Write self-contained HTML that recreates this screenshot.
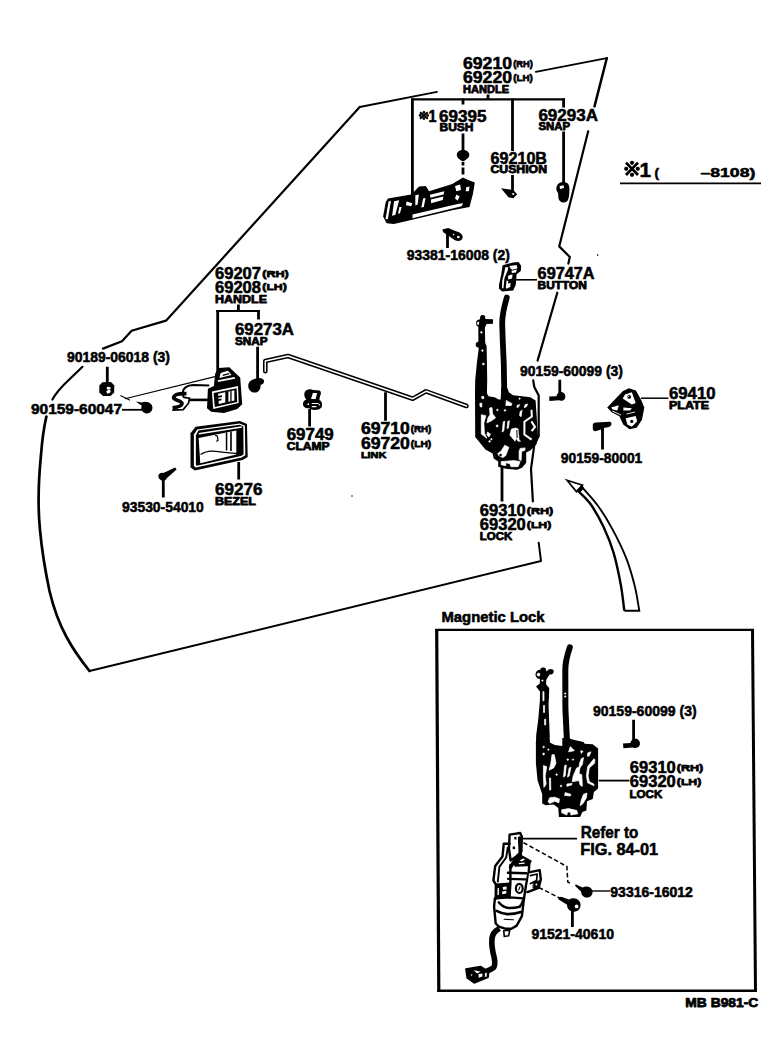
<!DOCTYPE html>
<html>
<head>
<meta charset="utf-8">
<title>Door Lock &amp; Handle</title>
<style>
html,body{margin:0;padding:0;background:#fff;}
body{width:784px;height:1050px;overflow:hidden;font-family:"Liberation Sans",sans-serif;}
svg{display:block;}
text{font-family:"Liberation Sans",sans-serif;font-weight:bold;fill:#000;stroke:#000;stroke-width:0.55;stroke-linejoin:round;}
.ln{fill:none;stroke:#000;stroke-width:2.2;stroke-linecap:round;stroke-linejoin:round;}
.ld{fill:none;stroke:#000;stroke-width:2.8;stroke-linecap:butt;}
.th{fill:none;stroke:#000;stroke-width:1.1;}
.k{fill:#000;stroke:none;}
.w{fill:#fff;stroke:none;}
#lock .w,#lock2 .w{stroke:#fff;stroke-width:0.7;stroke-linejoin:round;}
</style>
</head>
<body>
<svg width="784" height="1050" viewBox="0 0 784 1050">
<rect x="0" y="0" width="784" height="1050" fill="#fff"/>

<!-- ===== DOOR OUTLINE ===== -->
<g id="outline" class="ln">
<path style="stroke-width:1.8" d="M437,91.8 L359.7,107"/>
<path d="M359.7,107 L167.6,319 L166,320.6 L131.6,330.8 L122,341.3 L103,348.6"/>
<path d="M82.5,366.8 L69,379.8 Q57,391 52.4,399.6"/>
<path style="stroke-width:2.7" d="M46.4,416.5 C43.8,428 42,441 41,455 C38,485 38,510 40,530 C42,552 45.5,572 49.5,591 C53.5,608 59.5,624 66.5,637 C73.5,650 81.5,661 89.5,671"/>
<path style="stroke-width:2" d="M89.5,671 L541,561 L538.7,542.7"/>
<path style="stroke-width:1.8" d="M535.8,71.9 L606.8,58.2"/>
<path style="stroke-width:2.5" d="M606.8,58.2 L594.5,106.4"/>
<path d="M588.2,131.3 L559.2,246.4 L569.8,257 L568.4,263.6"/>
<path d="M557.3,292.7 L537.6,360.6"/>
<path d="M533.2,380.3 L534.3,386.9 L538.7,395.6 L538.7,436.1 L534.3,444.9 L531,469 L532.9,501.4"/>
</g>

<!-- ===== PARTS ===== -->
<g id="parts">
<!-- outside handle 69210 -->
<g id="ohandle">
<path class="k" d="M388,198.5 L411.2,194.5 L419.1,186.6 L425.8,185.9 L429.1,191.2 L452.3,183.9 L458.9,180 L462.9,177.6 L468.2,180 L474.8,182.6 L472.9,193.9 L469.5,207.1 L452.3,210.2 L411.2,220 L393.9,224 L386.6,223.3 L383.1,216.4 L385.8,201.8 Z"/>
<path class="w" d="M388.6,201.4 L391,200.8 L387.8,219.3 L385.5,219.1 Z"/>
<path class="w" d="M394.1,201.2 L399.2,200.2 L395.2,215.1 L392.1,215.8 Z"/>
<path class="w" d="M412.5,214.6 L457.6,204 L463.2,203.2 L461.6,206.3 L412.5,218.2 Z"/>
<path class="w" d="M429.9,194.7 L444.3,191.2 L443.6,194.6 L430.5,197.8 Z"/>
<path class="w" d="M430.8,199.6 L443.3,196.6 L442.8,200 L431.2,203.2 Z"/>
<path class="w" d="M455,186 L460.2,184.6 L461,190 L456.3,191.2 Z"/>
<path class="w" d="M466.2,187.2 L469.5,186.6 L468.9,191.2 L465.7,191.2 Z"/>
<path class="w" d="M456.3,194.5 L459.6,196.5 L457.6,200.5 L455,198.5 Z"/>
<path class="w" d="M415.3,195.2 L418.9,194.5 L417.6,204.5 L415.3,205.6 Z"/>
<path class="w" d="M423.1,198.5 L425.6,197.9 L423.8,207.1 L421.3,207.6 Z"/>
<path class="w" d="M406.5,201.4 L412.3,203.2 L411.2,206.3 L406,205.2 Z"/>
<path class="w" d="M399.4,207.1 L401.7,207.1 L399.9,213.6 L398.1,213.6 Z"/>
</g>
<!-- bush -->
<path class="k" d="M463,150 C467,150 469.3,152.3 469.3,155 C469.3,158 466,159.6 463.6,161.3 L462.4,161.3 C460,159.6 456.8,158 456.8,155 C456.8,152.3 459,150 463,150 Z"/>
<!-- cushion -->
<path class="k" d="M501,188.2 L513.3,190 L517.2,194.2 L513.3,198.3 L508.4,197.3 Z"/>
<circle class="w" cx="513.2" cy="194" r="1.1"/>
<!-- snap (outer) -->
<path class="k" d="M563,182 C567,181.6 569.6,184.5 569.4,188.5 C569.3,192 569.6,195 568.2,199.5 C567,203 562.5,203.5 560,201 C557.8,198.8 558.6,195.5 558,193 C556,190.5 555.8,187.5 557.3,185 C558.6,183 560.5,182.2 563,182 Z"/>
<path class="w" d="M559.6,186 L563.5,185.2 L564,188 L560,189 Z"/>
<!-- screw 93381 -->
<path class="k" d="M442.2,229.5 L448.3,228 L456,231.2 C460.5,232.2 463.3,235 462.6,238 C461.8,241.4 457.5,241.8 454.5,240 L447.5,235 L443.5,232.5 Z"/>
<circle class="w" cx="458.3" cy="237" r="1.3"/>
<circle class="w" cx="453.6" cy="234.6" r="0.8"/>
<!-- ===== inside handle 69207 ===== -->
<g id="ihandle">
<path class="k" d="M207.9,388.8 L213.9,386.1 L215.2,373.4 L218.6,368 L229.3,367.2 L240.2,377.4 L242.2,404.2 L237.3,409.1 L223.9,413.1 L211.2,411.8 L207,408.2 Z"/>
<path class="w" d="M220.6,372.9 L227.9,370.7 L231.6,375 L219.4,378 Z"/>
<path class="k" d="M222.5,374.8 L229,373 L229.4,374.2 L222.8,376 Z"/>
<path class="w" d="M217.9,380.3 L234.6,376.9 L235.1,378.7 L217.9,382.1 Z"/>
<path class="w" d="M211.9,391.5 L238,386.1 L238.7,402.9 L213.2,408.9 Z"/>
<path class="k" d="M213.6,393.1 L236.6,388.3 L237.2,401.9 L214.8,407.1 Z"/>
<path class="w" d="M218.1,393.7 L234.4,390.3 L234.4,400.6 L218.8,404 Z"/>
<path class="k" d="M225.3,391.5 L228.4,391 L228.4,402.6 L225.3,403.2 Z"/>
<path class="k" d="M218,396 L222,395.2 L222,397 L218,397.8 Z M218,399.2 L221.5,398.5 L221.5,400.2 L218,400.9 Z"/>
<path class="k" d="M230.3,391 L231.6,390.8 L231.6,401.6 L230.3,401.8 Z"/>
<!-- arm -->
<path d="M209.2,385.6 L193.3,384.9 C187,385.2 183.2,387.6 182.6,392.6 L183.6,397.6" fill="none" stroke="#000" stroke-width="2"/>
<path d="M188.8,399.9 H208.5" fill="none" stroke="#000" stroke-width="2.6"/>
<!-- S hook -->
<path d="M186.5,393.6 C181,393.4 174.3,394.2 173.6,397.3 C173,400.6 182.6,400.2 182,403.8 C181.5,406.8 176,407.4 172.6,407.8" fill="none" stroke="#000" stroke-width="3.7" stroke-linecap="butt"/>
<path d="M183.5,397.3 L189.5,398.2 L188.5,403.2 L183.2,409.6 L172.2,410.2" fill="none" stroke="#000" stroke-width="1.7"/>
</g>
<!-- snap (inner) -->
<path class="k" d="M256,378.6 C259,377.6 262.5,378 263.9,380.2 C264.8,382.4 262.8,384.6 260.5,385 C261,389.5 258,392.9 254.4,392.6 C250.4,392.2 247.8,388.6 248.3,385 C248.8,381.4 252,379.6 256,378.6 Z"/>
<!-- nut 90189 -->
<path class="k" d="M102.5,382.2 L111,382 L114.2,385.2 L114.2,392.6 L110.6,395.9 L103,395.9 L99.3,392.6 L99.3,385.4 Z"/>
<path class="w" d="M107.5,386.8 C109.6,386.2 111,387.4 110.9,389 L108.6,389.6 L110.7,390.4 C110.8,392.6 109.2,393.8 107.2,393.4 C106.2,392.4 106.2,391.2 107,390.6 L108.8,390 L107,389.2 C106.4,388.4 106.6,387.4 107.5,386.8 Z"/>
<!-- screw 90159-60047 -->
<path class="k" d="M135.8,401.6 L141.8,402.4 C144.6,401.2 148.6,401.4 151,404 C153.4,406.8 152.8,411 149.6,412.8 C146.6,414.4 142.8,413 141.6,410 C141,408.4 141.2,407 141.8,405.8 Z"/>
<!-- clamp 69749 -->
<path class="k" d="M306,390.6 C307.6,389 311.4,388.6 313,390 L319.6,390.6 C321.4,391.6 321.2,394.8 320,396 L319.4,400 C322,401 322.6,404.8 321.6,407.2 C319.6,410 314.4,410.4 311.6,409.6 L309,408.2 C305.6,408.6 302.6,406.6 303,403.4 C303.2,401.4 304.6,400 306.4,399.4 C304,397.4 303.4,392.8 306,390.6 Z"/>
<path class="w" d="M312.9,393 L317.1,393 L315.6,399.1 L311,399.1 Z"/>
<path class="w" d="M311.8,402.9 H318.6 V404.1 H311.8 Z M311.8,406 H316.4 V407.2 H311.8 Z"/>
<circle class="w" cx="308.3" cy="404.2" r="0.9"/><circle class="w" cx="319.4" cy="404.8" r="0.8"/>
<!-- link rod 69710 -->
<path d="M265.3,371.2 L265.3,361 L288,356 L412.8,398.7 L426,391.3 L466.5,406" fill="none" stroke="#000" stroke-width="4.6" stroke-linejoin="round" stroke-linecap="round"/>
<path d="M265.3,371.2 L265.3,361 L288,356 L412.8,398.7 L426,391.3 L466.5,406" fill="none" stroke="#fff" stroke-width="1.5" stroke-linejoin="round" stroke-linecap="round"/>
<!-- bezel 69276 -->
<g id="bezel">
<path class="k" d="M190.5,433.2 L195.6,426.7 L239.8,421.1 L247,424.1 L247.7,457.1 L242.6,460.1 L194.9,470.6 L190.5,467.6 Z"/>
<path class="w" d="M193.9,434.6 L197.2,429.4 L239.6,423.5 L244.9,425.8 L245.3,455.2 L241.6,457.4 L195.8,467.4 L193.9,466 Z"/>
<path class="k" d="M195.9,435.4 L198.4,430.6 L239.8,424.8 L243.3,426.6 L243.6,454.4 L240.8,456 L196.8,465.8 L195.9,465 Z"/>
<path d="M198.8,433.8 L241.8,427" fill="none" stroke="#fff" stroke-width="1.4"/>
<path class="w" d="M198.6,438 L236.3,430.6 L236.3,454.5 L200.3,463.2 Z"/>
<path class="k" d="M225.8,432.6 L227.3,432.3 L227.3,450.4 L225.8,450.4 Z M230.2,431.8 L231.8,431.5 L231.8,451 L230.2,451 Z"/>
<path d="M215.2,435.4 L217.4,436.2 L218,440.6 L216.2,441.2" fill="none" stroke="#000" stroke-width="1.2"/>
<path d="M200.6,454.6 C205,451.4 211,450.6 216,451.4 C224,452.6 231,453 237,453.4" fill="none" stroke="#000" stroke-width="1.2"/>
</g>
<!-- screw 93530 -->
<path class="k" d="M158.6,474.8 C159.6,473 161.6,472.4 163.4,473 L175.2,467.6 L176.6,469.4 L167,478 C166,480.2 163.6,481.2 161.4,480.4 C159,479.4 157.8,476.8 158.6,474.8 Z"/>
<!-- ===== button 69747A ===== -->
<g id="button">
<path class="k" d="M502.6,265.3 L513,262.5 L518.5,262.1 L521.2,265.7 L520.8,271.1 L516.6,274.3 L515.8,284.8 L513.2,290.4 L502.2,291.6 L499,288.8 L499,284.8 L501.3,274.1 Z"/>
<path class="w" d="M505.3,267.2 L508.2,267.2 L507.8,270.3 L504.5,278 L503.4,288.5 L502,287.9 L502.3,280.2 L504.3,272.6 Z"/>
<path class="w" d="M509.3,266.1 L516.7,265 L517.3,268.4 L512.2,269.8 L510.8,268.7 Z"/>
<path class="w" d="M511.5,270.8 L517,269.6 L515.9,272.5 L511.9,272.9 Z"/>
<path class="w" d="M508.1,275.8 L512.5,274.3 L512.1,278.6 L508.1,279.4 Z"/>
<path class="w" d="M506.6,280.4 L508.3,281.1 L508,283.4 L510.6,283 L510.2,287 L506.6,288.8 L505.8,287.8 Z"/>
</g>
<!-- ===== lock 69310 ===== -->
<g id="lock">
<!-- thick rod -->
<path d="M506.8,297.5 C503.5,309 502,316 502.2,324 L502.8,342 L503.8,364 L504.3,396" fill="none" stroke="#000" stroke-width="5.8" stroke-linecap="round"/>
<!-- left rod -->
<circle cx="479.8" cy="323.2" r="3.7" class="k"/>
<circle cx="478.6" cy="323.4" r="1.3" class="w"/>
<circle cx="482.2" cy="323.8" r="0.9" class="w"/>
<path class="k" d="M480.4,316 C481.6,314.6 484,314.6 485,316 L485.4,319 L493,319.2 L493,323.8 L486.6,324 L484.9,327.6 L485.2,343 L486.6,346 L486.9,361 L487.2,380 L486.9,394 L475,394 L475.2,380 L477,362 L478.8,348 L475.8,346.2 L475.8,343 L478.4,341.4 L478.3,327.6 Z"/>
<circle cx="481.4" cy="332.4" r="0.8" class="w"/><circle cx="482.4" cy="350.6" r="0.8" class="w"/><circle cx="483.4" cy="364" r="0.9" class="w"/>
<!-- body -->
<path class="k" d="M475,390 L475.2,437.1 L485.4,449.4 L492.6,453.5 L493.6,458.6 L498.2,461.6 L498.2,466.7 L505.8,468.8 L517,469.8 L522.1,467.8 L526.2,462.7 L526.2,452.4 L530.3,450.4 L536.4,444.3 L538,437.1 L535.6,400.4 L530.3,397.3 L522.1,396.3 L513,395.3 L508.9,392.2 L507.3,388 L501.2,388 L500.7,399.4 L498.7,399.4 L494.6,397.3 L488.5,396.3 L486.9,393.3 L486.9,390 Z"/>
<path class="w" d="M481.3,414.7 L485.9,415.7 L483.9,422.9 L484.4,433.1 L486.9,438.2 L481.3,434.1 Z"/>
<path class="w" d="M489.5,408.1 L492,407.6 L492.6,413.7 L495.6,417.8 L491.5,420.8 L486.9,422.9 L488,417.8 L490,414.7 Z"/>
<path class="w" d="M506.3,400.4 L508.9,401.9 L511.9,403.5 L511.4,405.5 L505.8,405.5 Z"/>
<path class="w" d="M520.1,411.6 L522.1,410.1 L521.1,416.7 L519.6,415.7 Z"/>
<path class="w" d="M525.2,404.5 L527.8,404 L526.2,407 L524.2,407.6 Z"/>
<path class="w" d="M517,405.5 L519.6,404.5 L518.6,407 L517,407.6 Z"/>
<path d="M531.5,409.8 L531.8,416.5 L524.4,421.8 L524.4,434.6 L531.6,439.6 M531.4,421.4 L535,427 L531.6,431.2" fill="none" stroke="#fff" stroke-width="2"/>
<path class="w" d="M511.4,429 L516,428 L518.1,429 L519.1,440.2 L520.6,441.2 L518.1,441.2 L516,438.2 L515,441.2 L509.9,435.1 Z"/>
<path class="k" d="M516.4,430 L517.4,430 L517.6,438 L516.6,438 Z"/>
<path class="w" d="M503.3,421.8 L504.8,421.3 L503.8,431 L502.2,432 Z"/>
<path class="w" d="M507.9,421.3 L509.4,420.8 L508.4,428 L507,428.5 Z"/>
<path class="w" d="M504.8,445.3 L508.9,447.3 L505.8,455.5 L502.8,457.6 L498.7,455.5 L497.7,453.5 L500.7,451.4 Z"/>
<circle class="k" cx="500.6" cy="455" r="1.3"/>
<path class="w" d="M520.1,448.4 L525.2,447.9 L524.7,450.4 L521.6,451.4 L521.1,460.6 L519.1,459.6 L519.1,451.4 Z"/>
<path class="w" d="M501.2,461.6 L514,460.6 L520.1,461.6 L518.1,466.7 L510.9,466.7 L509.9,463.7 L505.8,462.7 L505.8,465.7 L501.2,464.7 Z"/>
<path class="w" d="M487.4,432 L490.5,434.1 L489,437.1 L486.9,435.1 Z"/>
<circle class="w" cx="497.1" cy="425.9" r="1"/>
<path class="w" d="M479.8,403.5 L481.8,403 L481.8,407 L480.1,406.7 Z"/>
<path class="w" d="M481.6,396.6 L483.6,396.2 L484,398.4 L482,398.8 Z"/>
<circle class="w" cx="489.6" cy="441.4" r="0.8"/><circle class="w" cx="491.4" cy="439.2" r="0.7"/>
<circle class="w" cx="497.4" cy="410" r="0.8"/><circle class="w" cx="505" cy="410.4" r="0.8"/><circle class="w" cx="519.6" cy="398.6" r="0.7"/>
</g>
<!-- screw 90159-60099 -->
<path class="k" d="M549.2,396.6 L556.4,396.2 C557,393.2 559.6,391.6 562.2,392.2 C565,392.8 566,396 565,398.4 C564,400.6 561,401.2 558.8,400.2 L549.4,400.9 Z"/>
<!-- plate 69410 -->
<g id="plate">
<path class="k" d="M607.2,407.6 L622.7,391.3 L628.8,388.2 L635.9,390.5 L641.2,399.9 L644.3,407.6 L642,419.8 L636.6,427.7 L629.5,429.2 L623.2,424.6 L619.4,416.2 L611.7,412.3 Z"/>
<path class="w" d="M625,394.5 L631.8,392.2 L635.7,403 L631.8,404.5 L622.7,398.4 Z"/>
<circle class="k" cx="629.2" cy="396.9" r="1.9"/>
<circle class="w" cx="628.6" cy="396.5" r="0.6"/>
<path class="w" d="M611.2,407.6 L618.8,405.3 L617.3,410.4 L612.7,409.6 Z"/>
<path class="w" d="M623.4,407.6 L631.8,408.3 L630.3,410.6 L623.4,410.6 Z"/>
<path class="w" d="M625.7,418.3 L635.7,416 L637.2,421.3 L631.8,426.7 L627.3,424.4 Z"/>
<circle class="k" cx="631.8" cy="421.4" r="1.6"/>
<path d="M612.4,411 L621,415" fill="none" stroke="#fff" stroke-width="0.9"/>
<path d="M626.5,414 L635,412" fill="none" stroke="#fff" stroke-width="0.9"/>
</g>
<!-- bolt 90159-80001 -->
<path class="k" d="M592.8,425 C592.8,423.4 594,422.4 596,422.4 L609.6,421.8 C611,421.8 611.6,423 611.4,424.4 C611.2,426 609.6,426.8 607.6,427.2 L604,428 L604,431 L601,431 L601,429.6 L595.6,431.2 C593.8,431.4 592.8,430 592.8,428.4 Z"/>
<!-- ===== box: lock ===== -->
<g id="lock2">
<path d="M569.8,647.4 C566.6,657 565.2,664 565.3,670 L565.4,709 L566.9,740 L567,745" fill="none" stroke="#000" stroke-width="6" stroke-linecap="round"/>
<circle class="w" cx="565.2" cy="693.5" r="0.7"/><circle class="w" cx="565.2" cy="696.5" r="0.7"/>
<circle cx="540.1" cy="674.4" r="4.6" class="k"/>
<circle cx="538.6" cy="674.6" r="1.5" class="w"/>
<circle cx="543" cy="674.4" r="1.4" class="w"/>
<path class="k" d="M540.6,668.6 C541.6,667 545,667 545.8,668.8 L546.4,671.4 L548.6,669.6 C550.6,668.4 553.4,669.2 553.8,671.2 C554,673.2 552,674.6 549.6,674.6 L547.6,677.6 L546.2,680 L546.2,684.4 L549.2,688 L549,697 L548.5,704 L549.1,720 L549.7,735 L549.7,745 L535.9,745 L536.2,735 L538.2,720 L539.9,700 L540,691.4 L536,686.6 L539.8,683.4 L539.9,679 Z"/>
<path class="w" d="M542.9,691.6 L544,691.6 L544,700.8 L542.9,700.8 Z M543.5,705.4 L544.6,705.4 L544.6,712.4 L543.5,712.4 Z M544.6,719.2 L545.7,719.2 L545.7,725 L544.6,725 Z"/>
<circle class="w" cx="542.4" cy="680.6" r="0.7"/>
<path class="k" d="M535.9,742 L535.9,763.3 L537.6,780.5 L542.2,794.3 L542.2,803.5 L545.7,805.2 L553.7,804.6 L558.3,808.1 L558.9,816.9 L580.1,816.9 L582.4,812.1 L586.4,810.4 L587,801.2 L592.7,798.9 L593.9,792 L598.1,788.5 L598.1,748.4 L592.7,744.3 L584.7,743.8 L583.5,742.1 L573.2,739.8 L569.8,738.6 L562.3,738 L562.3,746.1 L554.8,744.9 L549.7,742.6 L549.5,740 Z"/>
<path class="w" d="M543.4,765.6 L546.8,766.7 L545.1,775.9 L546.2,784 L543.9,787.4 L543.4,775.9 Z"/>
<path class="w" d="M552,754.7 L554.3,754.7 L556,763.3 L553.7,767.9 L549.1,770.2 L550.8,763.3 Z"/>
<path class="w" d="M570.3,746.6 L574.4,750.7 L568.6,751.8 Z"/>
<path class="w" d="M580.7,750.7 L583,751.2 L581.3,753.5 Z"/>
<path class="w" d="M587.6,753 L591,751.8 L589.3,755.8 L587.6,756.4 Z"/>
<path class="w" d="M581.3,758.7 L583.5,757.6 L582.4,764.4 L579,769 L579.5,763.3 Z"/>
<path class="w" d="M593.9,758.7 L595,759.8 L594.5,763.3 L589.3,767.9 L588.1,775.9 L589.3,781.7 L593.9,784 L593.9,785.7 L587.6,782.8 L586.4,775.9 L587.6,766.7 Z"/>
<path class="w" d="M576.7,767.9 L580.1,766.7 L579,773.6 L581.8,774.8 L582.4,786.3 L580.1,785.1 L579,780.5 L572.1,781.7 L573.2,775.9 Z"/>
<path class="w" d="M564.6,765.6 L566.3,765 L565.2,775.9 L563.5,777.1 Z"/>
<path class="w" d="M569.2,767.9 L570.9,767.3 L569.2,775.9 L567.5,777.1 Z"/>
<path class="w" d="M549.7,797.7 L554.8,797.2 L559.4,798.9 L558.9,802.9 L554.8,801.2 L549.7,803.5 L548,801.7 Z"/>
<path class="w" d="M565.2,792.6 L570.9,794.3 L570.3,796 L564.6,795.4 Z"/>
<path class="w" d="M566.9,784 L572.1,783.4 L571.5,785.1 L566.9,786.3 Z"/>
<path class="w" d="M583.5,794.3 L587,793.1 L586.4,797.7 L583,803.5 L580.1,805.8 L581.3,800 Z"/>
<path class="w" d="M561.7,809.8 L568.6,808.6 L576.7,810.4 L577.8,813.8 L570.9,815 L570.3,812.1 L567.5,812.1 L566.9,815 L561.7,812.7 Z"/>
<path class="w" d="M549.4,778 L550.6,778 L550.8,790 L549.6,790 Z"/>
<circle class="w" cx="543.6" cy="747" r="0.8"/><circle class="w" cx="548.4" cy="749.6" r="0.7"/><circle class="w" cx="543.6" cy="754" r="0.9"/><circle class="w" cx="556.6" cy="774.6" r="0.8"/><circle class="w" cx="561" cy="786" r="0.8"/><circle class="w" cx="567.8" cy="759.6" r="0.8"/><circle class="w" cx="573" cy="759.6" r="0.7"/>
</g>
<!-- box screw 90159-60099 -->
<path class="k" d="M623,743.6 L630.4,743 C631,740 633.4,738.4 636,738.8 C639,739.4 640.6,742.4 639.8,745 C638.8,747.6 635.6,748.6 633,747.4 L623.4,748.2 Z"/>
<!-- screw 93316 -->
<path class="k" d="M575.6,884.2 L582.6,887.6 C585.4,885.8 589.6,886.2 591.6,889 C593.4,891.8 592.6,895.6 589.6,897 C586.6,898.4 583.2,897.2 581.6,894.2 L581,891.6 L575.2,886 Z"/>
<!-- screw 91521 -->
<path class="k" d="M558.4,897.6 L561,896.8 L569.2,899.6 C572.4,897.4 577.2,898 579.4,901.2 C581.6,904.6 580.6,909.2 577,911 C573.6,912.6 569.4,911.4 567.6,908 L566.8,904.6 L558.6,899.6 Z"/>
<circle class="w" cx="576.6" cy="906.4" r="1.9"/>
<!-- ===== box: actuator ===== -->
<g id="actuator" fill="none" stroke="#000" stroke-width="2.4" stroke-linejoin="round" stroke-linecap="round">
<!-- top tab -->
<path d="M509.6,834.6 L520.2,833 L521.8,836.6 L521.4,851.4 L516.2,856.6 L510.6,860.4 L509,849 Z" fill="#fff"/>
<path d="M519.6,838 L520.4,856.5 L515,860 L510.6,867" stroke-width="3.4"/>
<path class="k" stroke="none" d="M514.2,837 L516.4,836.8 L516.6,839.4 L514.4,839.6 Z M512.6,846.6 L515,846.4 L515.2,849 L512.8,849.2 Z"/>
<!-- left plate -->
<path d="M509.6,843.8 L503.8,843.6 L502.5,856.4 L495.2,865.9 L493.4,880.5 L496,884.6" />
<path d="M507.8,847.5 L506.2,857.5 L499.4,866.9 L497.8,881.6" stroke-width="1.9"/>
<!-- cylinder top cap -->
<path d="M514.6,860.8 L521.9,856.6 L530.5,861.2 L527.6,865 L515.4,865.6 Z" fill="#000"/>
<path class="w" stroke="none" d="M519.6,860.2 L523.4,858.4 L525,859.6 L521.6,861.6 Z M518.8,863 L524.8,862.6 L524.6,863.8 L519,864.2 Z"/>
<!-- cylinder body -->
<path d="M510.4,865 L510.4,883 L509.4,897.6 M529.4,862 L528.8,871.5 L526.2,884 L524,898.4"/>
<path d="M508,872.8 L526.2,873.3" stroke-width="2.6"/>
<path d="M508,878.8 L525.2,879.4" stroke-width="2.2"/>
<ellipse cx="519.3" cy="888.4" rx="3.4" ry="4.6" stroke-width="2.2"/>
<path d="M518.6,890 L520,886.8" stroke-width="1.1"/>
<!-- left dark block -->
<path d="M495.9,884.7 L509.9,883.7 L509.3,896.3 L495.7,898.4 Z" fill="#000"/>
<path class="w" stroke="none" d="M502.8,887 L506.6,886.6 L506.6,889.4 L503,889.8 Z M502.2,891.4 L506.4,890.8 L506.2,893.6 L502.2,894.2 Z M497.6,888 L499,888 L498.8,895 L497.4,895 Z"/>
<!-- right bracket -->
<path d="M529,872.4 L539.7,870.1 L540.8,879.5 L538.7,887.9 L527.4,892.1" fill="#fff"/>
<path d="M530.4,875.6 L537.2,874 L536.6,880.4 L530.4,883.6" stroke-width="1.7"/>
<path d="M533.6,882 L539.6,880.8 L538.6,887.4 L533.4,888.2 Z" fill="#000" stroke-width="1"/>
<circle class="w" stroke="none" cx="536.4" cy="884.6" r="1"/>
<!-- skirt line -->
<path d="M495.7,898.4 L509.3,897.4 L524,898.4"/>
<!-- lower boot -->
<path d="M494.9,898.4 L494.1,906.7 L495.7,923.5 L498.9,926.6 L506,928.8 L511.4,928.7 L516.7,925.6 L521.9,916.2 L524,898.4"/>
<path d="M498.9,902.5 C502,906 504.6,907.4 507.2,907.8 C511.4,908.2 516,907.6 519.8,906.7 C521.4,905 522.4,903 523,900.5" stroke-width="2.6"/>
<path d="M496.6,910.9 C500,912.8 503.6,913.8 507.2,914.1 C512,914.2 516.6,913.4 520.9,912" stroke-width="2.6"/>
<path d="M504.1,919.3 L513.5,919.8" stroke-width="1.1"/>
<!-- small tab -->
<path d="M503.7,930.7 L509.8,930.1 L508.6,935.8 L504.3,936.5 Z" fill="#fff" stroke-width="1.6"/>
<!-- wire -->
<path d="M499.4,928.4 C495,931 492.2,934.2 492,938.6 C491.4,944 492.2,950 494.2,957.6 C495,961.6 495.4,965 493.6,967.6 C491.6,969.6 489,970 486.6,971" stroke-width="5.6" stroke-linecap="butt"/>
<!-- connector -->
<path d="M465.8,969 L480.5,966.4 L488.8,971.5 L488.2,977.3 L474.1,983 L467.1,977.9 Z" fill="#000" stroke-width="1.4"/>
<path class="w" stroke="none" d="M473.5,970.3 L480.5,971.5 L477.3,973.4 Z M478.6,974.1 L482.4,973.4 L482.4,976.6 L478.6,977.7 Z M485,973 L486.8,972.8 L486.6,976.6 L484.8,977 Z"/>
<circle class="w" stroke="none" cx="471.6" cy="975" r="0.8"/>
</g>
</g>


<g class="k"><circle cx="597.7" cy="255.1" r="0.8"/><circle cx="352" cy="496" r="0.8"/></g>
<!-- ===== LEADERS ===== -->
<g id="leaders" class="ld">
<!-- top handle bracket -->
<path style="stroke-width:2.1" d="M411,99.4 H565"/>
<path d="M488,94.6 V99.4 M412.4,98.4 V196 M463,98.4 V104.5 M512.5,98.4 V151 M563.6,98.4 V107.5"/>
<path d="M463,133.5 V152 M512.5,175 V191 M563.6,131.5 V185 M447.5,234 V248"/>
<path d="M516,279.8 H537" style="stroke-width:1.6"/>
<path d="M463,162 V165.5 M463,167.5 V174.5"/>
<!-- inside handle bracket -->
<path style="stroke-width:2.1" d="M216.3,311 H259.9"/>
<path d="M238.4,304.6 V311 M217.7,310 V377 M258.5,310 V319.5 M257.6,346.7 V380"/>
<path d="M122,409.8 H143" style="stroke-width:1.8"/>
<path d="M107.3,366.8 V383 M309.6,409 V426.5 M385.5,392.2 V420.7 M238.7,462 V479.4 M163.3,479 V497.5"/>
<path class="th" d="M125,398.7 L216,376.4 M120.4,395.5 L130,400.3"/>
<!-- lock -->
<path d="M559.8,379.7 V394 M602.5,428 V449.6 M502,466.5 V501.4"/>
<path d="M641,398.2 H668.4" style="stroke-width:1.5"/>
<!-- box -->
<path style="stroke-width:2.3" d="M435.2,629.9 H754"/>
<path style="stroke-width:2.5" d="M437.2,990.8 H757"/>
<path style="stroke-width:3.2" d="M436.7,629 L438.8,992"/>
<path style="stroke-width:3" d="M752.5,629 L755.5,992"/>
<path d="M633.6,719.8 V740 M572.4,910 V927"/>
<path d="M598.7,780.6 H629.4" style="stroke-width:1.8"/>
<path d="M521.5,838.7 H577" style="stroke-width:1.7"/>
<path d="M591,891 H610" style="stroke-width:1.4"/>
<path class="th" style="stroke-width:1.5" d="M523.4,842.6 L566.9,866.5 L567.8,882 L571,883.4" stroke-dasharray="4.5,2.5"/>
<path class="th" style="stroke-width:1.5" d="M538.9,887.5 L561.3,898.8" stroke-dasharray="4.5,2.5"/>
<!-- big arrow -->
<path class="th" style="stroke-width:1.9" d="M581.4,486.4 C584.1,489.6 592.8,498.7 597.9,505.7 C603.0,512.7 607.4,519.8 612.1,528.6 C616.9,537.4 622.6,548.9 626.4,558.6 C630.2,568.4 632.9,578.4 635.0,587.1 C637.1,595.8 638.6,606.8 639.3,610.7 L624.3,610.7"/>
<path class="th" style="stroke-width:2.4" d="M577.9,490.7 C580.0,493.0 586.4,498.2 590.7,504.3 C595.0,510.4 599.8,519.0 603.6,527.1 C607.4,535.2 610.8,543.4 613.6,552.9 C616.5,562.4 618.9,574.7 620.7,584.3 C622.5,593.9 623.7,606.3 624.3,610.7"/>
<path d="M567,480.2 L582.4,485.2 L576.4,491.6 Z" fill="#fff" style="stroke-width:1.7" stroke-linejoin="miter"/>
<path d="M576.2,491.8 L582.4,485 L584,488.5 L579.5,493 Z" fill="#000" stroke="none"/>
</g>


<!-- ===== TEXT ===== -->
<g id="labels">
<!-- top handle group -->
<text x="463" y="68.5" font-size="16" textLength="49" lengthAdjust="spacingAndGlyphs">69210</text>
<text x="513.3" y="66.6" font-size="9.5" textLength="19.5" lengthAdjust="spacingAndGlyphs" style="stroke-width:0.75">(RH)</text>
<text x="463" y="83.2" font-size="16" textLength="49" lengthAdjust="spacingAndGlyphs">69220</text>
<text x="513.3" y="81.4" font-size="9.5" textLength="19.5" lengthAdjust="spacingAndGlyphs" style="stroke-width:0.75">(LH)</text>
<text x="463" y="93" font-size="10" textLength="46" lengthAdjust="spacingAndGlyphs" style="stroke-width:0.75">HANDLE</text>
<g id="kome1" stroke="#000" stroke-width="1.9" stroke-linecap="butt"><path d="M420,112.2 L427.8,118.8 M427.8,112.2 L420,118.8"/></g>
<g class="k"><circle cx="423.9" cy="112.4" r="1.4"/><circle cx="423.9" cy="118.6" r="1.4"/><circle cx="420.2" cy="115.5" r="1.4"/><circle cx="427.6" cy="115.5" r="1.4"/></g>
<text x="428.5" y="121.5" font-size="16" textLength="8" lengthAdjust="spacingAndGlyphs">1</text>
<text x="439" y="121.5" font-size="16.5" textLength="47.4" lengthAdjust="spacingAndGlyphs">69395</text>
<text x="439.5" y="131.3" font-size="10.5" textLength="34" lengthAdjust="spacingAndGlyphs" style="stroke-width:0.75">BUSH</text>
<text x="538.4" y="120.8" font-size="16" textLength="59.6" lengthAdjust="spacingAndGlyphs">69293A</text>
<text x="538.4" y="129.9" font-size="10" textLength="31.6" lengthAdjust="spacingAndGlyphs" style="stroke-width:0.75">SNAP</text>
<text x="490.5" y="164" font-size="16" textLength="56.5" lengthAdjust="spacingAndGlyphs">69210B</text>
<text x="490.5" y="173" font-size="10" textLength="56.5" lengthAdjust="spacingAndGlyphs" style="stroke-width:0.75">CUSHION</text>
<text x="406.8" y="260.3" font-size="14.4" textLength="103" lengthAdjust="spacingAndGlyphs">93381-16008 (2)</text>
<text x="537.6" y="278.5" font-size="16" textLength="57" lengthAdjust="spacingAndGlyphs">69747A</text>
<text x="537.6" y="289.2" font-size="10" textLength="49.3" lengthAdjust="spacingAndGlyphs" style="stroke-width:0.75">BUTTON</text>
<!-- inside handle group -->
<text x="215" y="279" font-size="16" textLength="46" lengthAdjust="spacingAndGlyphs">69207</text>
<text x="262.3" y="276.9" font-size="9.8" textLength="26.5" lengthAdjust="spacingAndGlyphs" style="stroke-width:0.75">(RH)</text>
<text x="215" y="292.5" font-size="16" textLength="46" lengthAdjust="spacingAndGlyphs">69208</text>
<text x="262.3" y="290.4" font-size="9.8" textLength="24.5" lengthAdjust="spacingAndGlyphs" style="stroke-width:0.75">(LH)</text>
<text x="215" y="303.3" font-size="11" textLength="52" lengthAdjust="spacingAndGlyphs" style="stroke-width:0.75">HANDLE</text>
<text x="235" y="335" font-size="16.5" textLength="59" lengthAdjust="spacingAndGlyphs">69273A</text>
<text x="235" y="345" font-size="10" textLength="32.5" lengthAdjust="spacingAndGlyphs" style="stroke-width:0.75">SNAP</text>
<text x="67" y="362" font-size="14.4" textLength="103" lengthAdjust="spacingAndGlyphs">90189-06018 (3)</text>
<text x="31" y="413.7" font-size="14.4" textLength="91" lengthAdjust="spacingAndGlyphs">90159-60047</text>
<text x="286.7" y="439.7" font-size="16" textLength="47" lengthAdjust="spacingAndGlyphs">69749</text>
<text x="286.7" y="450" font-size="10" textLength="43" lengthAdjust="spacingAndGlyphs" style="stroke-width:0.75">CLAMP</text>
<text x="360.9" y="433.9" font-size="16" textLength="49" lengthAdjust="spacingAndGlyphs">69710</text>
<text x="410.8" y="432.2" font-size="9.5" textLength="20.5" lengthAdjust="spacingAndGlyphs" style="stroke-width:0.75">(RH)</text>
<text x="360.9" y="449" font-size="16" textLength="49" lengthAdjust="spacingAndGlyphs">69720</text>
<text x="410.8" y="447.2" font-size="9.5" textLength="20.5" lengthAdjust="spacingAndGlyphs" style="stroke-width:0.75">(LH)</text>
<text x="360.9" y="458" font-size="9" textLength="25.5" lengthAdjust="spacingAndGlyphs" style="stroke-width:0.75">LINK</text>
<text x="215" y="495" font-size="17" textLength="47.5" lengthAdjust="spacingAndGlyphs">69276</text>
<text x="215" y="505" font-size="10" textLength="41" lengthAdjust="spacingAndGlyphs" style="stroke-width:0.75">BEZEL</text>
<text x="122" y="512.4" font-size="15" textLength="81.8" lengthAdjust="spacingAndGlyphs">93530-54010</text>
<!-- lock group -->
<text x="520" y="376" font-size="14.4" textLength="103" lengthAdjust="spacingAndGlyphs">90159-60099 (3)</text>
<text x="669" y="399" font-size="17" textLength="46.5" lengthAdjust="spacingAndGlyphs">69410</text>
<text x="669" y="408.7" font-size="10" textLength="40" lengthAdjust="spacingAndGlyphs" style="stroke-width:0.75">PLATE</text>
<text x="560.8" y="463.4" font-size="14.4" textLength="81.5" lengthAdjust="spacingAndGlyphs">90159-80001</text>
<text x="479.8" y="516" font-size="16.5" textLength="46" lengthAdjust="spacingAndGlyphs">69310</text>
<text x="526.8" y="514.2" font-size="9.8" textLength="26.5" lengthAdjust="spacingAndGlyphs" style="stroke-width:0.75">(RH)</text>
<text x="479.8" y="529.6" font-size="16.5" textLength="46" lengthAdjust="spacingAndGlyphs">69320</text>
<text x="526.8" y="527.8" font-size="9.8" textLength="24.5" lengthAdjust="spacingAndGlyphs" style="stroke-width:0.75">(LH)</text>
<text x="479.8" y="540.2" font-size="10.5" textLength="32.5" lengthAdjust="spacingAndGlyphs" style="stroke-width:0.75">LOCK</text>
<!-- box -->
<text x="441.5" y="622.2" font-size="14" textLength="103" lengthAdjust="spacingAndGlyphs">Magnetic Lock</text>
<text x="593" y="716.3" font-size="14.4" textLength="103.6" lengthAdjust="spacingAndGlyphs">90159-60099 (3)</text>
<text x="629.8" y="772.7" font-size="16.5" textLength="46" lengthAdjust="spacingAndGlyphs">69310</text>
<text x="676.8" y="770.8" font-size="9.8" textLength="26.5" lengthAdjust="spacingAndGlyphs" style="stroke-width:0.75">(RH)</text>
<text x="629.8" y="786.6" font-size="16.5" textLength="46" lengthAdjust="spacingAndGlyphs">69320</text>
<text x="676.8" y="784.8" font-size="9.8" textLength="24.5" lengthAdjust="spacingAndGlyphs" style="stroke-width:0.75">(LH)</text>
<text x="629.4" y="797.7" font-size="11" textLength="33" lengthAdjust="spacingAndGlyphs" style="stroke-width:0.75">LOCK</text>
<text x="580.8" y="837.9" font-size="16" textLength="57.6" lengthAdjust="spacingAndGlyphs">Refer to</text>
<text x="580.2" y="854.8" font-size="16.5" textLength="78" lengthAdjust="spacingAndGlyphs">FIG. 84-01</text>
<text x="610.3" y="896.9" font-size="14.4" textLength="82.6" lengthAdjust="spacingAndGlyphs">93316-16012</text>
<text x="531.4" y="939.3" font-size="14.4" textLength="82.6" lengthAdjust="spacingAndGlyphs">91521-40610</text>
<text x="685.3" y="1006.6" font-size="12.2" textLength="73" lengthAdjust="spacingAndGlyphs" style="stroke-width:0.75">MB B981-C</text>
<!-- note -->
<g stroke="#000" stroke-width="2.8"><path d="M626,162.6 L638,175 M638,162.6 L626,175"/></g>
<g class="k"><circle cx="632" cy="162.8" r="2.1"/><circle cx="632" cy="174.8" r="2.1"/><circle cx="626.2" cy="168.8" r="2.1"/><circle cx="637.8" cy="168.8" r="2.1"/></g>
<text x="639.5" y="177" font-size="21" textLength="11.5" lengthAdjust="spacingAndGlyphs">1</text>
<text x="654.5" y="176.6" font-size="13" textLength="4.5" lengthAdjust="spacingAndGlyphs">(</text>
<text x="700.4" y="176.9" font-size="13.5" textLength="55" lengthAdjust="spacingAndGlyphs">–8108)</text>
<path d="M620,183.4 L761,183.4" stroke="#000" stroke-width="1.6" fill="none"/>
</g>

</svg>
</body>
</html>
